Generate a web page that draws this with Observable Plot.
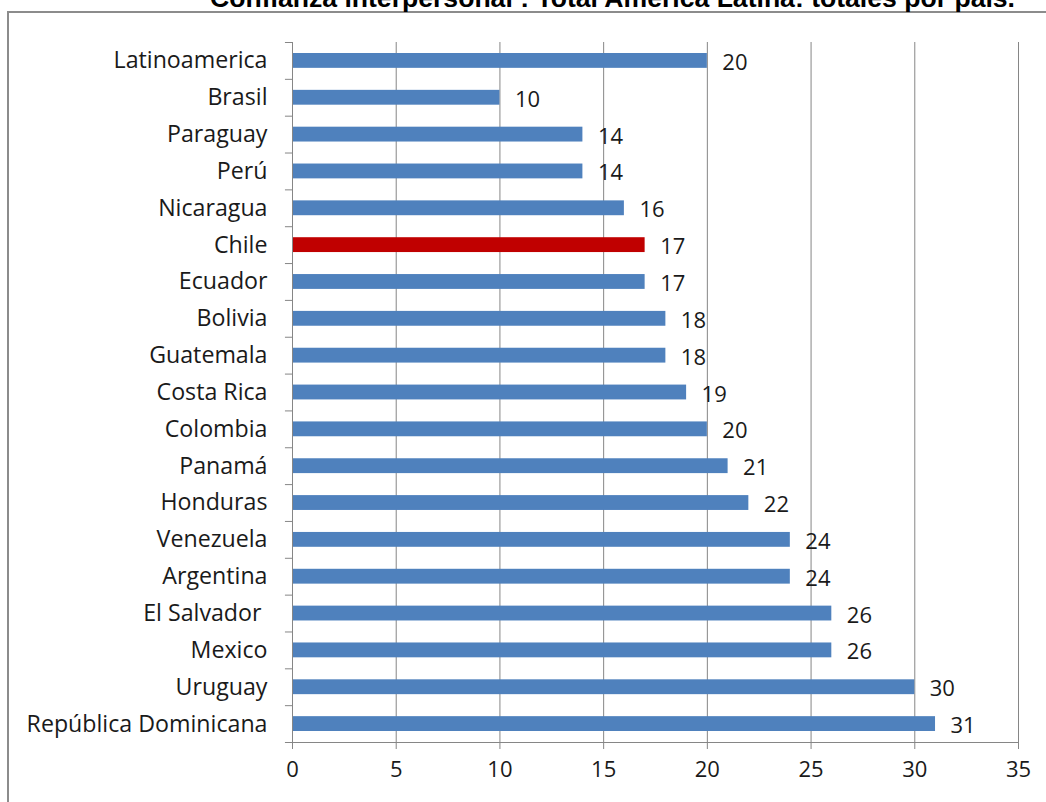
<!DOCTYPE html>
<html>
<head>
<meta charset="utf-8">
<script src="https://cdn.jsdelivr.net/npm/d3@7"></script>
<script src="https://cdn.jsdelivr.net/npm/@observablehq/plot@0.6"></script>
<style>
  body { margin: 0; background: #fff; }
  #wrap { position: relative; width: 1046px; height: 802px; overflow: hidden; background: #fff; }
  #frame { position: absolute; left: 7px; top: 11px; width: 1200px; height: 1000px; border: 2px solid #8c8c8c; box-sizing: border-box; }
  #titlebox { position: absolute; left: 0; top: 0; }
  #chart { position: absolute; left: 0; top: 0; }
</style>
</head>
<body>
<div id="wrap">
  <div id="frame"></div>
  <div id="chart"></div>
  <svg id="titlebox" width="1046" height="20">
    <text x="210" y="7" textLength="805" lengthAdjust="spacingAndGlyphs"
      style="font: bold 26px 'Liberation Sans', Arial, sans-serif; fill: #000;">Confianza interpersonal : Total América Latina: totales por país.</text>
  </svg>
</div>
<script>
const countries = ["Latinoamerica", "Brasil", "Paraguay", "Perú", "Nicaragua", "Chile", "Ecuador", "Bolivia", "Guatemala", "Costa Rica", "Colombia", "Panamá", "Honduras", "Venezuela", "Argentina", "El Salvador ", "Mexico", "Uruguay", "República Dominicana"];
const values = [20, 10, 14, 14, 16, 17, 17, 18, 18, 19, 20, 21, 22, 24, 24, 26, 26, 30, 31];
const highlight = "Chile";
const xTicks = [0, 5, 10, 15, 20, 25, 30, 35];

const data = countries.map((c, i) => ({country: c, value: values[i]}));

const W = 1046, H = 802, mT = 42, mB = 60, mL = 292, mR = 28;
const step = (H - mT - mB) / countries.length;
const font = "'Open Sans', Lato, sans-serif";

const chart = Plot.plot({
  width: W, height: H,
  marginTop: mT, marginBottom: mB, marginLeft: mL, marginRight: mR,
  style: {fontFamily: font, fontSize: "22px", color: "#1a1a1a", background: "transparent"},
  x: {domain: [0, 35], ticks: xTicks, label: null},
  y: {domain: countries, padding: 0, round: false, label: null},
  marks: [
    Plot.gridX(xTicks, {stroke: "#868686", strokeOpacity: 1}),
    Plot.barX(data, {x: "value", y: "country", fill: d => d.country === highlight ? "#C00000" : "#4F81BD", insetTop: 11, insetBottom: 11}),
    Plot.ruleX([0], {stroke: "#868686"}),
    Plot.ruleY(countries, {y: d => d, x1: -0.34, x2: 0, dy: -step / 2, stroke: "#868686", clip: false}),
    Plot.ruleY([countries[countries.length - 1]], {y: d => d, x1: -0.34, x2: 35, dy: step / 2, stroke: "#868686"}),
    Plot.axisX({ticks: xTicks, tickSize: 7, tickPadding: 12, stroke: "#868686", fill: "#1a1a1a", fontSize: 22, label: null}),
    Plot.axisY({tickSize: 0, tickPadding: 25, fill: "#1a1a1a", fontSize: 23.2, label: null}),
    Plot.text(data, {x: "value", y: "country", text: d => String(d.value), textAnchor: "start", dx: 15, dy: 2, fill: "#1a1a1a", fontSize: 22})
  ]
});
document.getElementById("chart").appendChild(chart);
</script>
</body>
</html>
